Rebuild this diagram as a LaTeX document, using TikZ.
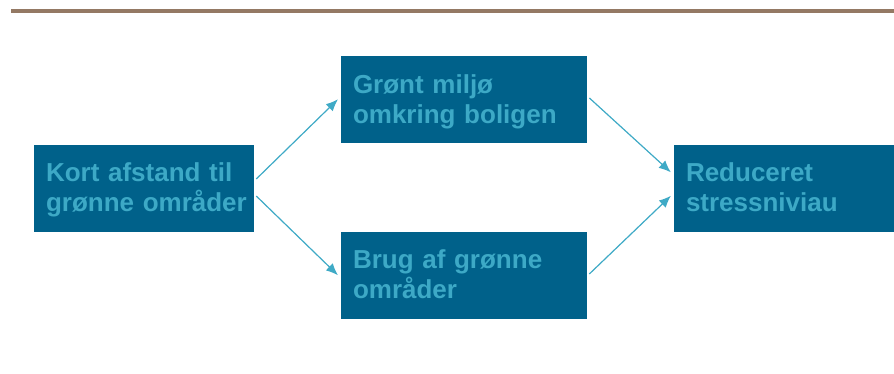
\documentclass[tikz,border=0pt]{standalone}
\usepackage{fontspec}
\setmainfont{Liberation Sans}
\usepackage{tikz}
\usetikzlibrary{arrows.meta}
\definecolor{boxblue}{HTML}{00618A}
\definecolor{boxtext}{HTML}{3DA9C6}
\definecolor{arrowcol}{HTML}{3FAAC6}
\definecolor{rulebrown}{HTML}{947964}
% first line sits 37pt below the top edge, the box ends 20pt below the last line
\newcommand\twolines[2]{\rule{0pt}{37pt}\mbox{#1}\\\mbox{#2}\rule[-20pt]{0pt}{20pt}}
\tikzset{%
  >={Latex[length=12pt,width=10pt]},
  stepbox/.style={rectangle,fill=boxblue,text=boxtext,
    font=\fontsize{26}{30}\selectfont\bfseries,
    align=left,inner xsep=12pt,inner ysep=0pt,
    minimum height=87pt,anchor=center},%
  link/.style={->,draw=arrowcol,fill=arrowcol,line width=1.2pt,
    shorten <=3pt,shorten >=4pt}%
}
\begin{document}
\begin{tikzpicture}[x=1pt,y=-1pt]
\useasboundingbox (0,0) rectangle (894,373);
\fill[rulebrown] (11,9) rectangle (894,12.5); % top rule

\node[stepbox,text width=196pt] (kort) at (144,188)
  {\twolines{Kort afstand til}{grønne områder}};
\node[stepbox,text width=222pt] (miljo) at (464,99.5)
  {\twolines{Grønt miljø}{omkring boligen}};
\node[stepbox,text width=222pt] (brug) at (464,275)
  {\twolines{Brug af grønne}{områder}};
\node[stepbox,text width=196pt] (stress) at (784,188)
  {\twolines{Reduceret}{stressniviau}};

\draw[link] ([yshift=7pt]kort.east) -- ([yshift=3pt]miljo.west);
\draw[link] ([yshift=-6pt]kort.east) -- ([yshift=-3pt]brug.west);
\draw[link] ([yshift=3.5pt]miljo.east) -- ([yshift=13pt]stress.west);
\draw[link] ([yshift=-1pt]brug.east) -- ([yshift=-5pt]stress.west);
\end{tikzpicture}
\end{document}
